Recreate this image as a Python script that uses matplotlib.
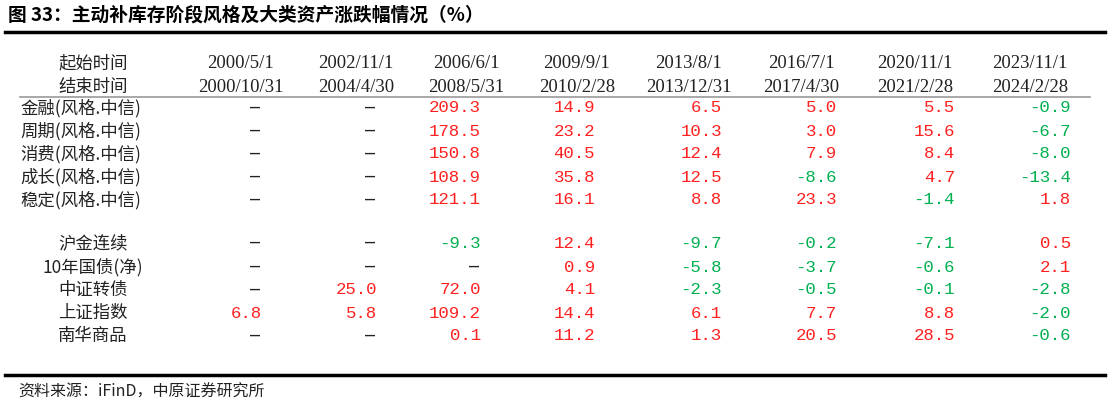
import matplotlib.pyplot as plt

plt.rcParams['font.family'] = ['Noto Sans CJK SC', 'DejaVu Sans']

title = '图 33：主动补库存阶段风格及大类资产涨跌幅情况（%）'
source = '资料来源：iFinD，中原证券研究所'

start_dates = ['2000/5/1', '2002/11/1', '2006/6/1', '2009/9/1', '2013/8/1',
               '2016/7/1', '2020/11/1', '2023/11/1']
end_dates = ['2000/10/31', '2004/4/30', '2008/5/31', '2010/2/28', '2013/12/31',
             '2017/4/30', '2021/2/28', '2024/2/28']

style_rows = ['金融(风格.中信)', '周期(风格.中信)', '消费(风格.中信)',
              '成长(风格.中信)', '稳定(风格.中信)']
style_vals = [
    [None, None, 209.3, 14.9, 6.5, 5.0, 5.5, -0.9],
    [None, None, 178.5, 23.2, 10.3, 3.0, 15.6, -6.7],
    [None, None, 150.8, 40.5, 12.4, 7.9, 8.4, -8.0],
    [None, None, 108.9, 35.8, 12.5, -8.6, 4.7, -13.4],
    [None, None, 121.1, 16.1, 8.8, 23.3, -1.4, 1.8],
]
asset_rows = ['沪金连续', '10年国债(净)', '中证转债', '上证指数', '南华商品']
asset_vals = [
    [None, None, -9.3, 12.4, -9.7, -0.2, -7.1, 0.5],
    [None, None, None, 0.9, -5.8, -3.7, -0.6, 2.1],
    [None, 25.0, 72.0, 4.1, -2.3, -0.5, -0.1, -2.8],
    [6.8, 5.8, 109.2, 14.4, 6.1, 7.7, 8.8, -2.0],
    [None, None, 0.1, 11.2, 1.3, 20.5, 28.5, -0.6],
]

RED = '#FF2020'
GREEN = '#00B050'
col_hdr = [241, 356, 466, 577, 689, 801, 915, 1030]
col_val = [262, 377, 481, 595, 722, 837, 955, 1071]

fig = plt.figure(figsize=(11.1, 4.07), dpi=100)
ax = fig.add_axes([0, 0, 1, 1])
ax.set_xlim(0, 1110)
ax.set_ylim(407, 0)
ax.axis('off')

ax.text(8, 15, title, fontsize=13.5, fontweight='bold', va='center', ha='left')
ax.plot([5, 1105], [32, 32], color='black', lw=2.5)
ax.plot([5, 1105], [375, 375], color='black', lw=2.5)
ax.plot([20, 1090], [97, 97], color='#999999', lw=1.2)

ax.text(93, 63, '起始时间', fontsize=12.5, va='center', ha='center', color='#222222')
ax.text(93, 87, '结束时间', fontsize=12.5, va='center', ha='center', color='#222222')
for x, s, e in zip(col_hdr, start_dates, end_dates):
    ax.text(x, 63, s, fontsize=13.5, va='center', ha='center',
            family='Liberation Serif', color='#222222')
    ax.text(x, 87, e, fontsize=13.5, va='center', ha='center',
            family='Liberation Serif', color='#222222')


def draw_rows(names, vals, ys, label_x, label_ha):
    for name, row, y in zip(names, vals, ys):
        ax.text(label_x, y, name, fontsize=12.5, va='center', ha=label_ha, color='#222222')
        for x, v in zip(col_val, row):
            if v is None:
                ax.text(x - 2, y, '–', fontsize=12, va='center', ha='right',
                        family='DejaVu Sans Mono', color='#222222')
            else:
                ax.text(x, y, f'{v:.1f}', fontsize=12.5, va='center', ha='right',
                        family='Liberation Mono', color=RED if v > 0 else GREEN)


draw_rows(style_rows, style_vals, [108, 131, 154, 177, 200], 20, 'left')
draw_rows(asset_rows, asset_vals, [243, 267, 290, 313, 336], 93, 'center')

ax.text(18, 392, source, fontsize=11.5, va='center', ha='left', color='#222222')

fig.savefig('out.png', dpi=100)
